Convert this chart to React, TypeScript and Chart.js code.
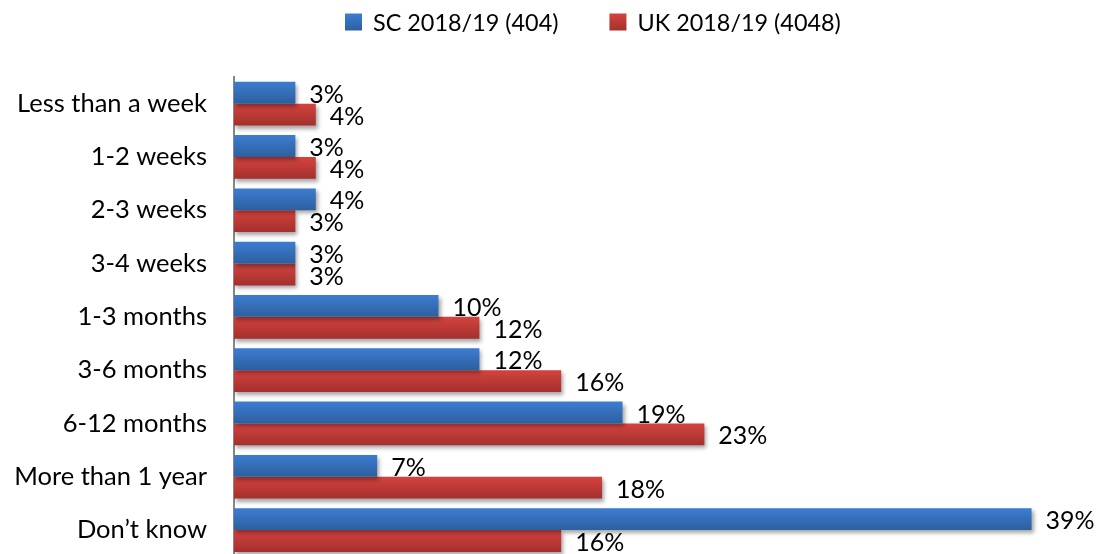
import React, { useEffect, useRef } from "react";
import { Chart, registerables } from "chart.js";

Chart.register(...registerables);

const categories = [
  "Less than a week",
  "1-2 weeks",
  "2-3 weeks",
  "3-4 weeks",
  "1-3 months",
  "3-6 months",
  "6-12 months",
  "More than 1 year",
  "Don\u2019t know",
];
const scValues = [3, 3, 4, 3, 10, 12, 19, 7, 39];
const ukValues = [4, 4, 3, 3, 12, 16, 23, 18, 16];
const seriesLabels = ["SC 2018/19 (404)", "UK 2018/19 (4048)"];
const blueStops = ["#3c7dd1", "#2d5f9f"];
const redStops = ["#d5433e", "#a3302d"];

const FONT = "Lato, 'Open Sans', sans-serif";
const FONT_SIZE = 25;
const TICK_FONT_SIZE = 25.5;
const LEGEND_FONT_SIZE = 23.4;
const CAT_PCT = 0.82;

function gradientFor(stops: string[]) {
  return (ctx: any) => {
    const chart = ctx.chart;
    const area = chart.chartArea;
    if (!area || ctx.type !== "data") return stops[0];
    const y = chart.scales.y;
    const c = y.getPixelForValue(ctx.dataIndex);
    const band = ((area.bottom - area.top) / categories.length) * CAT_PCT;
    const half = band / 2;
    const y0 = ctx.datasetIndex === 0 ? c - half : c;
    const g = chart.ctx.createLinearGradient(0, y0, 0, y0 + half);
    g.addColorStop(0, stops[0]);
    g.addColorStop(1, stops[1]);
    return g;
  };
}

const shadowPlugin = {
  id: "barShadow",
  beforeDatasetsDraw(chart: any) {
    const c = chart.ctx;
    c.save();
    c.shadowColor = "rgba(0,0,0,0.35)";
    c.shadowBlur = 4;
    c.shadowOffsetX = 2;
    c.shadowOffsetY = 3;
  },
  afterDatasetsDraw(chart: any) {
    chart.ctx.restore();
  },
};

const valueLabelPlugin = {
  id: "valueLabels",
  afterDraw(chart: any) {
    const c = chart.ctx;
    c.save();
    c.font = `${FONT_SIZE}px ${FONT}`;
    c.fillStyle = "#000";
    c.textAlign = "left";
    c.textBaseline = "middle";
    chart.data.datasets.forEach((ds: any, i: number) => {
      const meta = chart.getDatasetMeta(i);
      meta.data.forEach((el: any, j: number) => {
        c.fillText(ds.data[j] + "%", el.x + 14, el.y + 2);
      });
    });
    c.restore();
  },
};

const legendPlugin = {
  id: "customLegend",
  afterDraw(chart: any) {
    const c = chart.ctx;
    c.save();
    c.font = `${LEGEND_FONT_SIZE}px ${FONT}`;
    c.textBaseline = "middle";
    c.textAlign = "left";
    const box = 17;
    const gapText = 11;
    const gapItems = 51;
    const cy = 22;
    const stopsList = [blueStops, redStops];
    let x = 345;
    seriesLabels.forEach((label, i) => {
      const g = c.createLinearGradient(0, cy - box / 2, 0, cy + box / 2);
      g.addColorStop(0, stopsList[i][0]);
      g.addColorStop(1, stopsList[i][1]);
      c.fillStyle = g;
      c.fillRect(x, cy - box / 2, box, box);
      x += box + gapText;
      c.fillStyle = "#000";
      c.fillText(label, x, cy + 1);
      x += c.measureText(label).width + gapItems;
    });
    c.restore();
  },
};

export default function App() {
  const ref = useRef<HTMLCanvasElement>(null);
  useEffect(() => {
    if (!ref.current) return;
    const chart = new Chart(ref.current, {
      type: "bar",
      data: {
        labels: categories,
        datasets: [
          {
            label: seriesLabels[0],
            data: scValues,
            backgroundColor: gradientFor(blueStops),
            borderWidth: 0,
            categoryPercentage: CAT_PCT,
            barPercentage: 1,
          },
          {
            label: seriesLabels[1],
            data: ukValues,
            backgroundColor: gradientFor(redStops),
            borderWidth: 0,
            categoryPercentage: CAT_PCT,
            barPercentage: 1,
          },
        ],
      },
      options: {
        indexAxis: "y",
        responsive: false,
        animation: false,
        layout: { padding: { left: 0, right: 49, top: 77, bottom: 42 } },
        plugins: {
          legend: { display: false },
          tooltip: { enabled: false },
        },
        scales: {
          x: {
            display: false,
            min: 0,
            max: 40,
          },
          y: {
            grid: { display: false, drawTicks: false },
            border: { display: true, color: "#868686", width: 2 },
            ticks: {
              color: "#000",
              padding: 27,
              font: { family: FONT, size: TICK_FONT_SIZE },
            },
            afterFit(scale: any) {
              scale.width = 234;
            },
          },
        },
      },
      plugins: [shadowPlugin, valueLabelPlugin, legendPlugin],
    });
    return () => chart.destroy();
  }, []);
  return (
    <div style={{ position: "fixed", left: 0, top: 0, width: 1101, height: 554, overflow: "hidden", background: "#fff" }}>
      <canvas ref={ref} width={1101} height={599} style={{ display: "block" }} />
    </div>
  );
}
